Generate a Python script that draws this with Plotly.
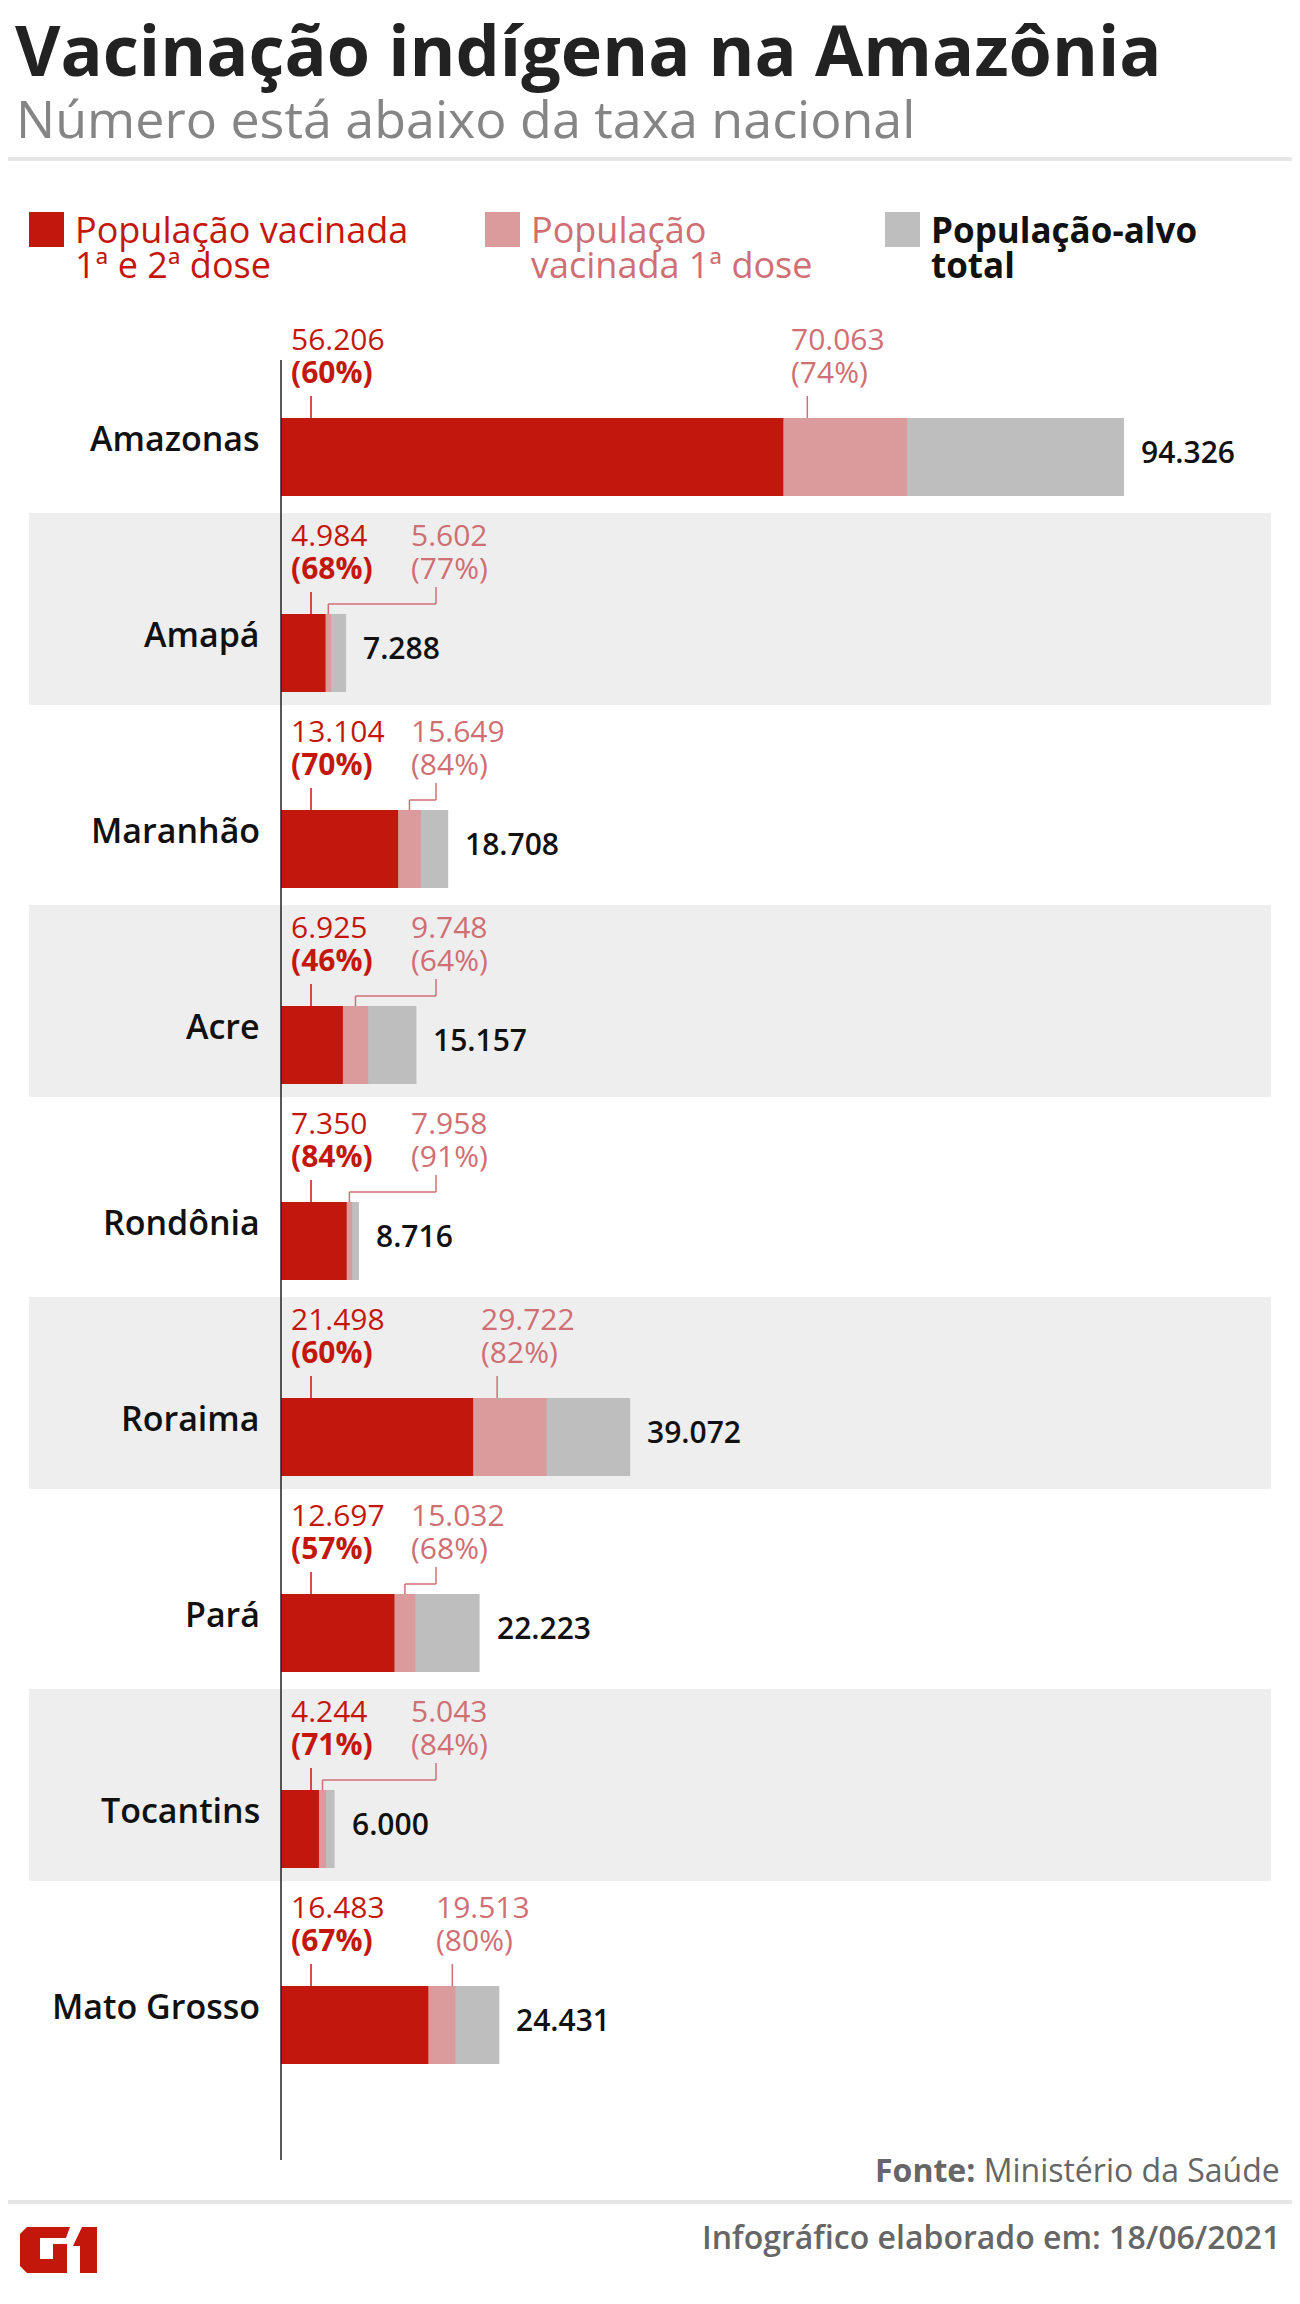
import plotly.graph_objects as go

# Data
states = ["Amazonas", "Amapá", "Maranhão", "Acre", "Rondônia",
          "Roraima", "Pará", "Tocantins", "Mato Grosso"]
both_doses = [56206, 4984, 13104, 6925, 7350, 21498, 12697, 4244, 16483]
both_pct = [60, 68, 70, 46, 84, 60, 57, 71, 67]
first_dose = [70063, 5602, 15649, 9748, 7958, 29722, 15032, 5043, 19513]
first_pct = [74, 77, 84, 64, 91, 82, 68, 84, 80]
target_total = [94326, 7288, 18708, 15157, 8716, 39072, 22223, 6000, 24431]
legend_names = [["População vacinada", "1ª e 2ª dose"],
                ["População", "vacinada 1ª dose"],
                ["População-alvo", "total"]]

# Colours / fonts
RED = "#c1170d"
PINK = "#db9a9b"
GRAY = "#bebebe"
RED_TXT = "#c4170c"
PINK_TXT = "#cf6f74"
BAND = "#eeeeee"
FONT = "Open Sans"

# Page geometry (pixels, as seen on the page; the plot div sits 8px in)
W, H = 1300, 2304
OFF = 8
AXIS_X = 281 - OFF    # x pixel of the zero line inside the figure
BAR_LEN = 843         # pixels used by the largest total
ROW = 196             # pixels between rows
FIRST_CENTER = 457 - OFF
BAR_H = 78

ppu = BAR_LEN / max(target_total)   # pixels per unit
upx = 1 / ppu                       # units per pixel
ypx = 1 / ROW                       # y units per pixel


def px(p):
    return (p - OFF) / W


def py(p):
    return 1 - (p - OFF) / H


def fmt(v):
    return f"{v:,}".replace(",", ".")


fig = go.Figure()

# overlaid bars: total, 1st dose, both doses
for vals, col, nm in [(target_total, GRAY, "total"),
                      (first_dose, PINK, "1ª dose"),
                      (both_doses, RED, "1ª e 2ª dose")]:
    fig.add_trace(go.Bar(
        y=states, x=vals, orientation="h", width=BAR_H / ROW,
        marker=dict(color=col, line=dict(width=0)),
        name=nm, showlegend=False, hoverinfo="x+y"
    ))

shapes = []
annotations = []

# alternate bands
for i, s in enumerate(states):
    if i % 2 == 1:
        shapes.append(dict(type="rect", xref="paper", yref="y",
                           x0=px(29), x1=px(1271),
                           y0=i - 140 * ypx, y1=i + 52 * ypx,
                           fillcolor=BAND, line=dict(width=0), layer="below"))

# zero line
shapes.append(dict(type="line", xref="x", yref="y", x0=0, x1=0,
                   y0=-97 * ypx, y1=len(states) - 1 + 135 * ypx,
                   line=dict(color="#222222", width=1.5), layer="above"))

top = BAR_H / 2  # bar top offset in px
for i, s in enumerate(states):
    # state name
    annotations.append(dict(x=(AXIS_X - 19) / W, xref="paper", xanchor="right",
                            y=s, yref="y", yshift=19, text=s, showarrow=False,
                            font=dict(family=FONT, size=34, color="#111111", weight=600)))
    # total
    annotations.append(dict(x=target_total[i], xref="x", xanchor="left", xshift=15,
                            y=s, yref="y", yshift=6, text=fmt(target_total[i]),
                            showarrow=False,
                            font=dict(family=FONT, size=30, color="#111111", weight=600)))
    # both doses label
    annotations.append(dict(x=0, xref="x", xanchor="left", xshift=8,
                            y=s, yref="y", yshift=top + 80, text=fmt(both_doses[i]),
                            showarrow=False, font=dict(family=FONT, size=30, color=RED_TXT)))
    annotations.append(dict(x=0, xref="x", xanchor="left", xshift=8,
                            y=s, yref="y", yshift=top + 47, text=f"<b>({both_pct[i]}%)</b>",
                            showarrow=False, font=dict(family=FONT, size=30, color=RED_TXT)))
    shapes.append(dict(type="line", xref="x", yref="y", x0=30 * upx, x1=30 * upx,
                       y0=i - top * ypx, y1=i - (top + 22) * ypx,
                       line=dict(color=RED_TXT, width=1.5)))

    # first dose label
    red_px = both_doses[i] * ppu
    straight = red_px + 8 >= 130
    lab_px = red_px + 6 if straight else 128
    for txt, sh in [(fmt(first_dose[i]), top + 80), (f"({first_pct[i]}%)", top + 47)]:
        annotations.append(dict(x=lab_px * upx, xref="x", xanchor="left",
                                y=s, yref="y", yshift=sh, text=txt, showarrow=False,
                                font=dict(family=FONT, size=30, color=PINK_TXT)))
    if straight:
        lx = (lab_px + 18) * upx
        shapes.append(dict(type="line", xref="x", yref="y", x0=lx, x1=lx,
                           y0=i - top * ypx, y1=i - (top + 22) * ypx,
                           line=dict(color=PINK_TXT, width=1.5)))
    else:
        lx = (lab_px + 27) * upx
        mid = (both_doses[i] + first_dose[i]) / 2
        for x0, x1, y0, y1 in [(lx, lx, top + 27, top + 10),
                               (lx, mid, top + 10, top + 10),
                               (mid, mid, top + 10, top)]:
            shapes.append(dict(type="line", xref="x", yref="y", x0=x0, x1=x1,
                               y0=i - y0 * ypx, y1=i - y1 * ypx,
                               line=dict(color=PINK_TXT, width=1.5)))

# title and subtitle
annotations.append(dict(x=px(14), xref="paper", xanchor="left", y=py(49), yref="paper",
                        yanchor="middle", text="<b>Vacinação indígena na Amazônia</b>",
                        showarrow=False, borderpad=0,
                        font=dict(family=FONT, size=70, color="#222222")))
annotations.append(dict(x=px(14), xref="paper", xanchor="left", y=py(117), yref="paper",
                        yanchor="middle", text="Número está abaixo da taxa nacional",
                        showarrow=False, font=dict(family=FONT, size=52, color="#858585")))
shapes.append(dict(type="line", xref="paper", yref="paper", x0=0, x1=1,
                   y0=py(159), y1=py(159), line=dict(color="#e6e6e6", width=4)))

# legend
leg_x = [29, 485, 885]
leg_cols = [RED, PINK, GRAY]
leg_txt = [RED_TXT, PINK_TXT, "#111111"]
for k in range(3):
    shapes.append(dict(type="rect", xref="paper", yref="paper",
                       x0=px(leg_x[k]), x1=px(leg_x[k] + 35),
                       y0=py(212), y1=py(247), fillcolor=leg_cols[k], line=dict(width=0)))
    for j, line in enumerate(legend_names[k]):
        annotations.append(dict(x=px(leg_x[k] + 44), xref="paper", xanchor="left",
                                y=py(230 + 35 * j), yref="paper", yanchor="middle",
                                text=line, showarrow=False,
                                font=dict(family=FONT, size=36 if k < 2 else 35,
                                          color=leg_txt[k],
                                          weight=700 if k == 2 else 400)))

# footer
annotations.append(dict(x=px(1282), xref="paper", xanchor="right", y=py(2169), yref="paper",
                        yanchor="middle", text="<b>Fonte:</b> Ministério da Saúde",
                        showarrow=False, font=dict(family=FONT, size=32, color="#666666")))
shapes.append(dict(type="line", xref="paper", yref="paper", x0=0, x1=1,
                   y0=py(2202), y1=py(2202), line=dict(color="#e6e6e6", width=4)))
annotations.append(dict(x=px(1282), xref="paper", xanchor="right", y=py(2236), yref="paper",
                        yanchor="middle", text="Infográfico elaborado em: 18/06/2021",
                        showarrow=False,
                        font=dict(family=FONT, size=32, color="#666666", weight=600)))


# G1 logo drawn as polygons
def poly(pts):
    return "M " + " L ".join(f"{px(x):.5f},{py(y):.5f}" for x, y in pts) + " Z"


g_shape = [(27, 2227), (70, 2227), (66, 2238), (40, 2238), (40, 2259), (53, 2259),
           (53, 2244), (67, 2244), (67, 2273), (27, 2273), (20, 2266), (20, 2234)]
one_shape = [(82, 2227), (97, 2227), (97, 2273), (80, 2273), (80, 2246), (73, 2246)]
for pts in (g_shape, one_shape):
    shapes.append(dict(type="path", xref="paper", yref="paper", path=poly(pts),
                       fillcolor=RED_TXT, line=dict(width=0)))

fig.update_layout(
    width=W, height=H,
    margin=dict(l=0, r=0, t=0, b=0),
    paper_bgcolor="white", plot_bgcolor="white",
    barmode="overlay", showlegend=False,
    xaxis=dict(range=[-AXIS_X * upx, (W - AXIS_X) * upx], visible=False, fixedrange=True),
    yaxis=dict(range=[(H - FIRST_CENTER) / ROW, -FIRST_CENTER / ROW], visible=False,
               type="category", categoryorder="array", categoryarray=states, fixedrange=True),
    shapes=shapes, annotations=annotations,
)

fig.write_html("out.html")
